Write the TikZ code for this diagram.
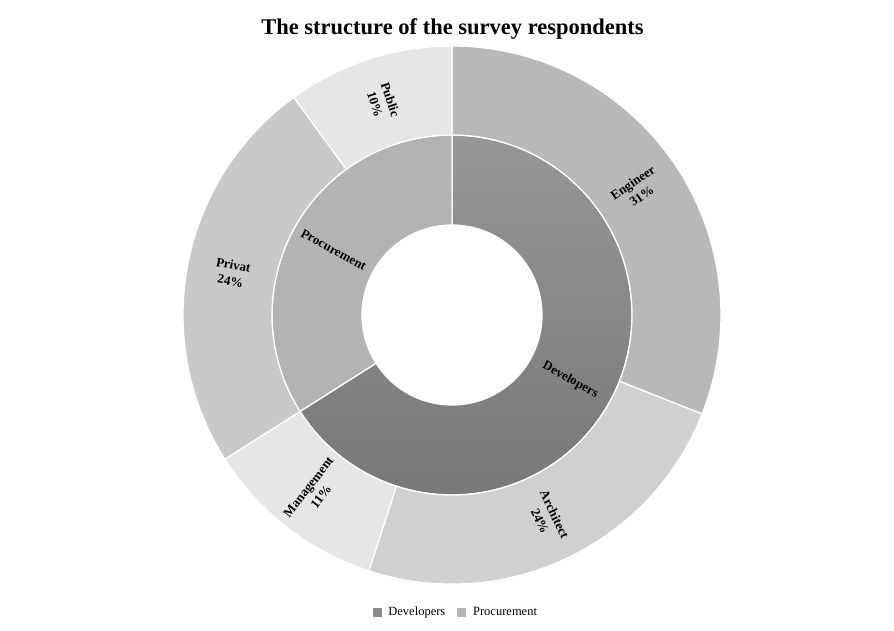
\documentclass[tikz,border=0pt]{standalone}
\usepackage{fontspec}
\setmainfont{Liberation Serif}
\usetikzlibrary{positioning}

\definecolor{devtop}{HTML}{979797}
\definecolor{devbot}{HTML}{787878}
\definecolor{devcol}{HTML}{8A8A8A}
\definecolor{procol}{HTML}{B3B3B3}
\definecolor{engcol}{HTML}{B8B8B8}
\definecolor{arccol}{HTML}{D0D0D0}
\definecolor{mgmcol}{HTML}{E6E6E6}
\definecolor{prvcol}{HTML}{C9C9C9}
\definecolor{pubcol}{HTML}{E6E6E6}

\begin{document}
\begin{tikzpicture}[x=1pt, y=1pt,
  seg/.style={draw=white, line width=1.3pt},
  seglabel/.style={font=\bfseries\fontsize{13}{16}\selectfont, align=center, inner sep=0pt},
  legkey/.style={minimum size=9pt, inner sep=0pt},
  legtext/.style={font=\fontsize{12.5}{14}\selectfont, inner sep=0pt,
    text height=8.5pt, text depth=2.5pt}]
\useasboundingbox (0,0) rectangle (894,631);
\coordinate (C) at (452,316);

% title
\node[font=\bfseries\fontsize{22.5}{27}\selectfont, anchor=base] (title) at (452.5,596)
  {The structure of the survey respondents};

% inner ring
\path[seg, top color=devtop, bottom color=devbot]
  (C) ++(90:180) arc[start angle=90, end angle=-147.6, radius=180]
  -- ([shift={(-147.6:90)}]C) arc[start angle=-147.6, end angle=90, radius=90] -- cycle;
\path[seg, fill=procol]
  (C) ++(212.4:180) arc[start angle=212.4, end angle=90, radius=180]
  -- ([shift={(90:90)}]C) arc[start angle=90, end angle=212.4, radius=90] -- cycle;

% outer ring
\foreach \a/\b/\col in {90/-21.6/engcol, -21.6/-108/arccol, -108/-147.6/mgmcol,
                        212.4/126/prvcol, 126/90/pubcol}
  \path[seg, fill=\col]
    (C) ++(\a:269) arc[start angle=\a, end angle=\b, radius=269]
    -- ([shift={(\b:180)}]C) arc[start angle=\b, end angle=\a, radius=180] -- cycle;

% labels
\node[seglabel, rotate=-28.8] (dev) at ([shift={(-28.8:135)}]C) {Developers};
\node[seglabel, rotate=-28.8] (pro) at ([shift={(151.2:135)}]C) {Procurement};
\node[seglabel, rotate=34.2] (eng) at ([shift={(34.2:224)}]C) {Engineer\\31\%};
\node[seglabel, rotate=-64.8] (arc) at ([shift={(-64.8:224)}]C) {Architect\\24\%};
\node[seglabel, rotate=52.2] (mgm) at ([shift={(-127.8:224)}]C) {Management\\11\%};
\node[seglabel, rotate=-10.8] (prv) at ([shift={(169.2:224)}]C) {Privat\\24\%};
\node[seglabel, rotate=-72] (pub) at ([shift={(108:224)}]C) {Public\\10\%};

% legend
\node[legkey, fill=devcol] (devkey) at (377.5,18) {};
\node[legtext, right=6pt of devkey] (devtext) {Developers};
\node[legkey, fill=procol, right=11pt of devtext] (prokey) {};
\node[legtext, right=7pt of prokey] (protext) {Procurement};
\end{tikzpicture}
\end{document}
